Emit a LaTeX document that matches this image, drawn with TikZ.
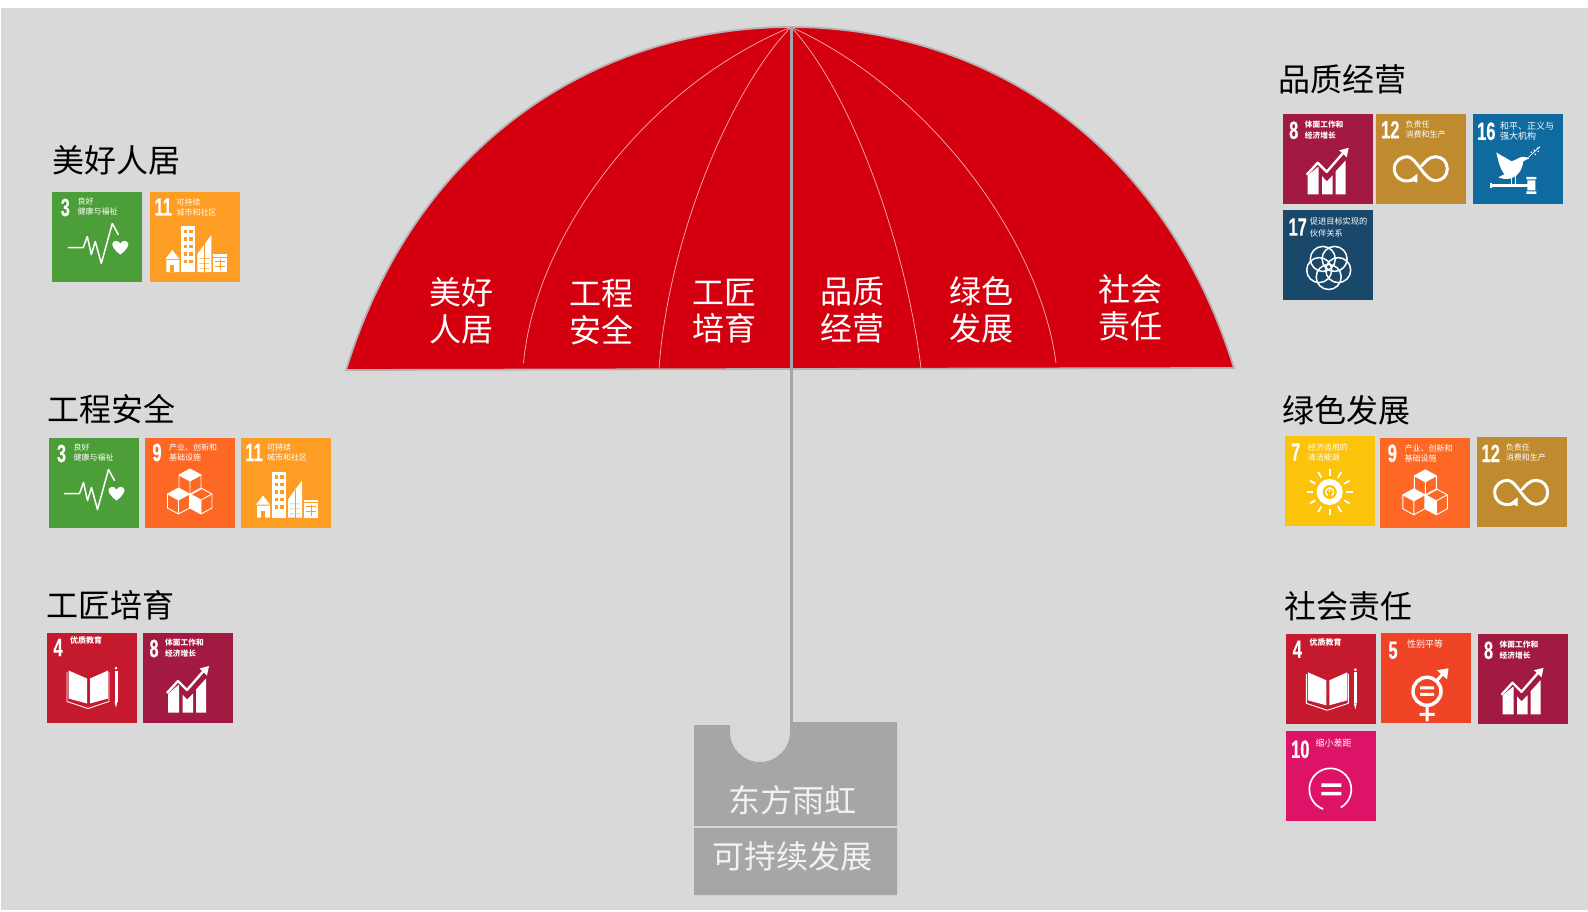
\documentclass[tikz,border=0pt]{standalone}
\usepackage{fontspec}
\setmainfont{Noto Sans CJK SC}
\newfontfamily\numfont[FakeStretch=0.66,FakeBold=0.3]{Liberation Sans}
\definecolor{bgc}{HTML}{D9D9D9}
\definecolor{canopy}{HTML}{D5000F}
\definecolor{stand}{HTML}{A6A6A6}
\definecolor{gthree}{HTML}{4C9F38}
\definecolor{gfour}{HTML}{C5192D}
\definecolor{gfive}{HTML}{EF4426}
\definecolor{gseven}{HTML}{FCC30B}
\definecolor{geight}{HTML}{A21942}
\definecolor{gnine}{HTML}{FD6925}
\definecolor{gten}{HTML}{DD1367}
\definecolor{geleven}{HTML}{FD9D24}
\definecolor{gtwelve}{HTML}{BF8B2E}
\definecolor{gsixteen}{HTML}{0F6AA0}
\definecolor{gseventeen}{HTML}{19486A}
\tikzset{
  numtxt/.style={text=white,inner sep=0pt,font=\numfont\bfseries\fontsize{25}{25}\selectfont},
  lbl/.style={text=white,inner sep=0pt,anchor=west,align=left},
  bigt/.style={text=#1,inner sep=0pt,font=\fontsize{32}{36}\selectfont},
  title/.style={bigt=black,anchor=west},
  rib/.style={draw=white!70!canopy,line width=0.7pt},
  ico/.style={draw=white,line join=round,line cap=round}
}
\newcommand\tbg[1]{\fill[#1] (0,0) rectangle (90,90);}
\newcommand\tnum[3]{\node[numtxt] (\tid-num) at (#1,#2) {#3};}
% x, y (vertical middle of the text), size, leading, text
\newcommand\ttxt[5]{\node[lbl,font=\fontsize{#3}{#4}\selectfont] (\tid-txt) at (#1,#2) {#5};}
\newcommand\goal[4]{\begin{scope}[shift={(#1,#2)}]\def\tid{#4}\csname g#3\endcsname\end{scope}}
% --- goals ---
\newcommand\gthree{\tbg{gthree}\tnum{13}{16}{3}\ttxt{25}{15}{8}{10}{良好\\健康与福祉}
  \draw[ico,line width=1.5pt] (16,56)--(31,56)--(35,45)--(39,63)--(43,50)--(49,72)--(60,32)--(66,43);
  \fill[white] (68,63) .. controls (61,58) and (60,54) .. (60,52.5) .. controls (60,49) and (66,48) .. (68,52) .. controls (70,48) and (76,49) .. (76,52.5) .. controls (76,54) and (75,58) .. (68,63) -- cycle;}
\newcommand\geleven{\tbg{geleven}\tnum{13}{15}{11}\ttxt{26}{15}{8}{10}{可持续\\城市和社区}
  \fill[white] (15,67)--(22,58)--(29,67)--cycle (16,68) rectangle (29,80);
  \fill[geleven] (20,73) rectangle (24,80);
  \fill[white] (31,34) rectangle (45,80);
  \fill[white] (47,80)--(47,62)--(61,43)--(61,80)--cycle;
  \fill[white] (63,62) rectangle (77,80);
  \foreach \yy in {37.5,45,52.5,60,67.5}{\fill[geleven] (33.5,\yy) rectangle +(3.5,3.8);\fill[geleven] (39,\yy) rectangle +(3.5,3.8);}
  \foreach \yy in {66,71,76}{\fill[geleven] (49,\yy) rectangle +(4.5,.7) (54.5,\yy) rectangle +(4.5,.7);}
  \draw[geleven,line width=.6pt] (54,52)--(54,80);
  \draw[geleven,line width=.6pt] (63,65)--(77,65) (65,69)--(75,69) (65,74)--(75,74) (70,67)--(70,78);}
\newcommand\cube[2]{% centre x y
  \draw[ico,line width=.9pt] (#1,#2-13)--(#1+11,#2-7)--(#1+11,#2+7)--(#1,#2+13)--(#1-11,#2+7)--(#1-11,#2-7)--cycle (#1-11,#2-7)--(#1,#2-1)--(#1+11,#2-7) (#1,#2-1)--(#1,#2+13);}
\newcommand\gnine{\tbg{gnine}\tnum{12}{15}{9}\ttxt{24}{15}{8}{10}{产业、创新和\\基础设施}
  \cube{45}{44.5}\cube{33.5}{63.5}\cube{56}{63.5}
  \fill[white] (45,31.5)--(56,37.5)--(45,43.5)--(34,37.5)--cycle;
  \fill[white] (33.5,50.5)--(44.5,56.5)--(33.5,62.5)--(22.5,56.5)--cycle;
  \fill[white] (45,56.5)--(56,62.5)--(56,76.5)--(45,70.5)--cycle;}
\newcommand\gfour{\tbg{gfour}\tnum{11}{15}{4}\ttxt{23}{8}{8}{10}{\bfseries 优质教育}
  \fill[white] (21.5,38)--(40,46)--(40,71)--(21.5,66)--cycle (43,46)--(61,38)--(61,66)--(43,71)--cycle;
  \draw[ico,line width=.9pt] (20,40)--(20,69)--(41,76)--(62,69)--(62,40);
  \fill[white] (67.5,38) rectangle (70.5,69); \fill[white] (67.5,69)--(70.5,69)--(69,75)--cycle;
  \fill[white] (69,35.5) circle (1.5);}
\newcommand\geight{\tbg{geight}\tnum{11}{16}{8}\ttxt{22}{15.5}{7.7}{11}{\bfseries 体面工作和\\\bfseries 经济增长}
  \fill[white] (25,61)--(36,52)--(36,80)--(25,80)--cycle;
  \fill[white] (39.5,62)--(44,67)--(50,61)--(50,80)--(39.5,80)--cycle;
  \fill[white] (53,57)--(63,46)--(63,80)--(53,80)--cycle;
  \draw[draw=geight,line width=1.2pt] (22,63.5)--(35,50.5)--(44,60.5)--(63,41);
  \draw[ico,line width=2.4pt,line cap=butt] (24,60.5)--(35,48.5)--(44,57.5)--(61,38);
  \fill[white] (66,33.5)--(64,43)--(56.5,36)--cycle;}
\newcommand\gtwelve{\tbg{gtwelve}\tnum{14}{16}{12}\ttxt{29}{15.5}{8}{10}{负责任\\消费和生产}
  \draw[ico,line width=3pt] (36,66.5) .. controls (25,69.5) and (18,63) .. (18,55) .. controls (18,47) and (25,43) .. (31,43) .. controls (40,43) and (48,67) .. (59,67) .. controls (66,67) and (71,62) .. (71,55) .. controls (71,48) and (66,43) .. (59,43) .. controls (53,43) and (49,48) .. (45.5,52);
  \fill[white] (41,60)--(41,69)--(33,66)--cycle;}
\newcommand\gsixteen{\tbg{gsixteen}\tnum{13}{17}{16}\ttxt{26.5}{17}{9}{10}{和平、正义与\\强大机构}
  \fill[white] (23,38) .. controls (27,41) and (32,43) .. (38,47) .. controls (42,46) and (44,44) .. (47,43) -- (51,42.5) -- (56,44) -- (50,47) .. controls (49,55) and (45,62) .. (38,64) .. controls (33,65) and (30,65) .. (25,63) -- (31,60) .. controls (27,55) and (25,47) .. (23,38) -- cycle;
  \draw[ico,line width=.9pt] (38,63)--(38,70) (42,62)--(42,70);
  \draw[ico,line width=.7pt] (54,44)--(66,33);
  \foreach \a/\b in {58/38,61/36,64/34,62/40,65/37,66/33}{\fill[white] (\a,\b) circle (.9);}
  \fill[white] (17,70) rectangle (55,72.5);
  \fill[white] (17,69) rectangle (18.5,73.5);
  \fill[white] (53,62.5) rectangle (63,65) (54,66) rectangle (62,76) (53,77) rectangle (63,79.5);}
\newcommand\gseventeen{\tbg{gseventeen}\tnum{15}{17}{17}\ttxt{27}{17}{8.2}{12}{促进目标实现的\\伙伴关系}
  \foreach \ang in {90,162,234,306,18}{\draw[white,line width=1.5pt] (46,57)++(\ang:10) circle (12.5);}}
\newcommand\gseven{\tbg{gseven}\tnum{11}{16}{7}\ttxt{23}{16}{8}{10}{经济适用的\\清洁能源}
  \fill[white] (45,56) circle (13);
  \fill[gseven] (45,56) circle (7);
  \draw[white,line width=1.3pt] (45,56)++(60:4) arc[start angle=60,end angle=-240,radius=4];
  \draw[white,line width=1.3pt] (45,51)--(45,56);
  \foreach \ang in {0,30,...,330}{\draw[ico,line width=1.8pt,line cap=butt] (45,56)++(\ang:16.5)--++(\ang:6.5);}}
\newcommand\gfive{\tbg{gfive}\tnum{12}{17}{5}\ttxt{26}{11}{9}{10}{性别平等}
  \draw[white,line width=3.5pt] (46,58) circle (14);
  \fill[white] (39,53) rectangle (53,56) (39,59.5) rectangle (53,62.5);
  \fill[white] (44.5,72) rectangle (47.5,88) (38.5,79.5) rectangle (53.5,82.5);
  \draw[ico,line width=3pt,line cap=butt] (56,47)--(64,38);
  \fill[white] (67.5,35)--(66,46)--(56,37)--cycle;}
\newcommand\gten{\tbg{gten}\tnum{14}{18}{10}\ttxt{29}{12}{9}{10}{缩小差距}
  \draw[white,line width=1.7pt] (44,58)++(60:21) arc[start angle=60,end angle=-250,radius=21];
  \fill[white] (35,52) rectangle (55,55.5) (35,60.5) rectangle (55,64);}
\begin{document}
\begin{tikzpicture}[x=1pt,y=-1pt]
\useasboundingbox (0,0) rectangle (1588,911);
\fill[white] (0,0) rectangle (1588,911);
\fill[bgc] (1,8) rectangle (1588,910);
% canopy
\coordinate (apex) at (791,27);
\coordinate (lt) at (346,370);
\coordinate (rt) at (1234,368);
\path[fill=canopy,draw=stand!85!white,line width=1.8pt] (lt) .. controls (420,130) and (610,27) .. (apex) .. controls (972,27) and (1160,130) .. (rt) -- cycle;
\draw[rib] (523.5,363) .. controls (535,240) and (640,90) .. (apex);
\draw[rib] (659,369) .. controls (668,240) and (730,90) .. (apex);
\draw[rib] (921,368) .. controls (905,240) and (850,90) .. (apex);
\draw[rib] (1056,363) .. controls (1040,240) and (930,90) .. (apex);
% stand
\path[fill=stand] (694,725)--(730,725)--(730,732) arc[start angle=180,end angle=360,x radius=30,y radius=-30] --(790,722)--(897,722)--(897,895)--(694,895)--cycle;
\coordinate (pole) at (791.7,724);
\coordinate (ptop) at (791.7,27);
\draw[stand,line width=3pt] (ptop)--(pole);
\coordinate (sl) at (694,827); \coordinate (sr) at (897,827);
\draw[bgc!90!stand,line width=1.5pt] (sl)--(sr);
\node[bigt=white!95!black] (brand) at (792,800) {东方雨虹};
\node[bigt=white!95!black] (sus) at (792,856) {可持续发展};
% canopy labels
\tikzset{clabel/.style={bigt=white,align=center,font=\fontsize{32}{36.5}\selectfont}}
\node[clabel] (c1) at (461.5,311) {美好\\人居};
\node[clabel] (c2) at (601,312) {工程\\安全};
\node[clabel] (c3) at (724,311) {工匠\\培育};
\node[clabel] (c4) at (852,310) {品质\\经营};
\node[clabel] (c5) at (981.5,310) {绿色\\发展};
\node[clabel] (c6) at (1130,308) {社会\\责任};
% titles
\node[title] (t1) at (52,160) {美好人居};
\node[title] (t2) at (47.5,409) {工程安全};
\node[title] (t3) at (46.5,605) {工匠培育};
\node[title] (t4) at (1278.5,79) {品质经营};
\node[title] (t5) at (1282,410) {绿色发展};
\node[title] (t6) at (1284,606) {社会责任};
% tiles
\goal{52.3}{191.5}{three}{a1}
\goal{150.3}{192}{eleven}{a2}
\goal{48.5}{437.5}{three}{b1}
\goal{145}{437.5}{nine}{b2}
\goal{241}{437.5}{eleven}{b3}
\goal{47}{632.5}{four}{c1t}
\goal{143}{632.5}{eight}{c2t}
\goal{1282.7}{114.3}{eight}{d1}
\goal{1376.3}{113.7}{twelve}{d2}
\goal{1473.3}{114.3}{sixteen}{d3}
\goal{1282.7}{210}{seventeen}{d4}
\goal{1284.7}{436}{seven}{e1}
\goal{1380.3}{438.3}{nine}{e2}
\goal{1476.7}{437.3}{twelve}{e3}
\goal{1286.3}{634.3}{four}{f1}
\goal{1381}{633.3}{five}{f2}
\goal{1477.5}{634.3}{eight}{f3}
\goal{1286.3}{731.3}{ten}{f4}
\end{tikzpicture}
\end{document}
